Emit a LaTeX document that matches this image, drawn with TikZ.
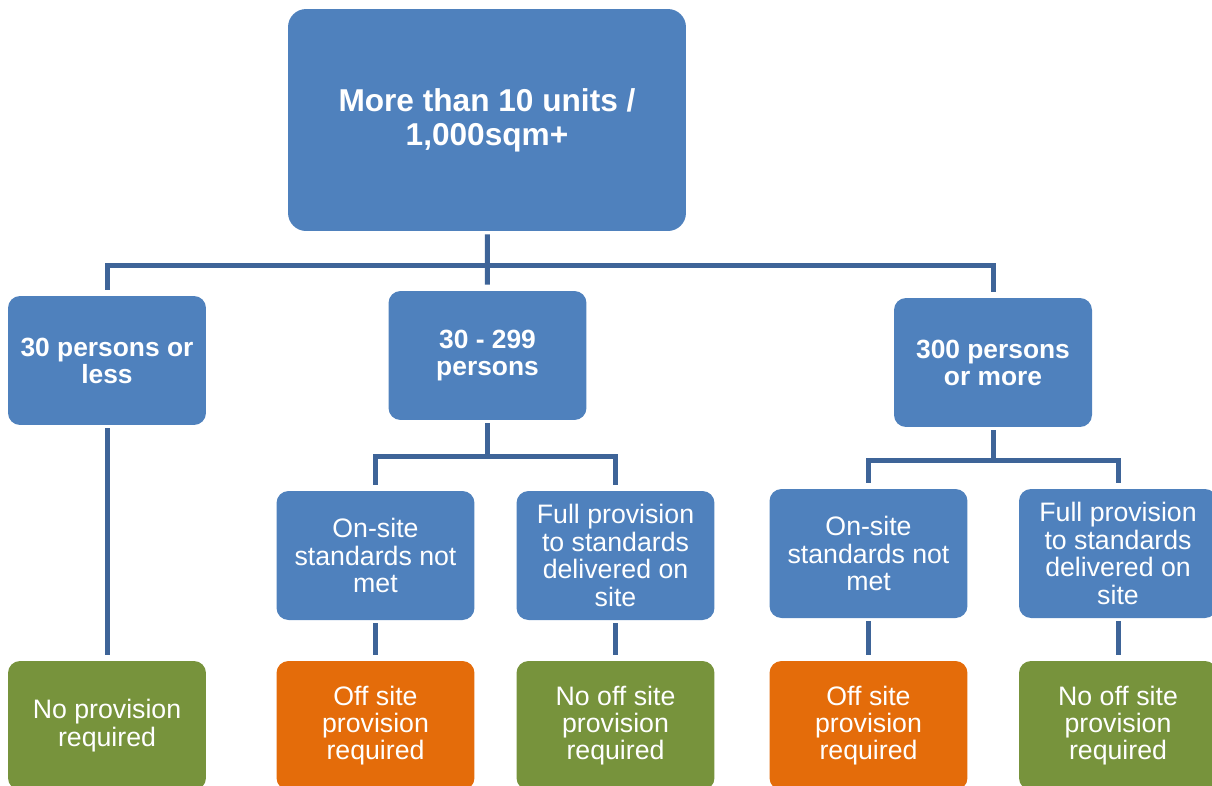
\documentclass[tikz,border=0pt]{standalone}
\usepackage{fontspec}
\setmainfont{Liberation Sans}
\usepackage{tikz}

\definecolor{boxblue}{RGB}{79,129,189}
\definecolor{lineblue}{RGB}{62,100,152}
\definecolor{offorange}{RGB}{228,108,10}
\definecolor{nogreen}{RGB}{119,147,60}

\tikzset{
    box/.style={rounded corners=0.24cm, text=white, align=center,
        minimum width=3.96cm, minimum height=2.58cm, inner sep=0pt},
    toplevel/.style={box, fill=boxblue, rounded corners=0.36cm,
        minimum width=7.96cm, minimum height=4.44cm,
        font=\bfseries\fontsize{18}{19.3}\selectfont},
    persons/.style={box, fill=boxblue, font=\bfseries\fontsize{15}{15.3}\selectfont},
    standard/.style={box, fill=boxblue, font=\fontsize{15.2}{15.6}\selectfont},
    offsite/.style={box, fill=offorange, font=\fontsize{15.2}{15.6}\selectfont},
    nooffsite/.style={box, fill=nogreen, font=\fontsize{15.2}{15.6}\selectfont},
    conn/.style={draw=lineblue, line width=0.1cm, shorten <=0.06cm, shorten >=0.12cm}
}

\begin{document}
\begin{tikzpicture}[x=0.02cm, y=-0.02cm]
        \useasboundingbox (0,0) rectangle (1212,785);
        \clip (0,0) rectangle (1212,785);

        \node[toplevel] (top) at (487,120) {More than 10 units /\\1,000sqm+};

        \node[persons] (small) at (107,360.5) {30 persons or\\less};
        \node[persons] (mid) at (487.5,355.5) {30 - 299\\persons};
        \node[persons] (large) at (993,362.5) {300 persons\\or more};

        \node[standard] (midnot) at (375.5,555.5) {On-site\\standards not\\met};
        \node[standard] (midfull) at (615.5,555.5) {Full provision\\to standards\\delivered on\\site};
        \node[standard] (largenot) at (868.5,553.5) {On-site\\standards not\\met};
        \node[standard] (largefull) at (1118,553.5) {Full provision\\to standards\\delivered on\\site};

        \node[nooffsite] (smallres) at (107,725.5) {No provision\\required};
        \node[offsite] (midnotres) at (375.5,725.5) {Off site\\provision\\required};
        \node[nooffsite] (midfullres) at (615.5,725.5) {No off site\\provision\\required};
        \node[offsite] (largenotres) at (868.5,725.5) {Off site\\provision\\required};
        \node[nooffsite] (largefullres) at (1118,725.5) {No off site\\provision\\required};

        \coordinate (topbus) at (487,265);
        \coordinate (midbus) at (487.5,456);
        \coordinate (largebus) at (993,460);

        \draw[conn] (top) -- (mid);
        \draw[conn, shorten <=0.12cm] (small.north) |- (topbus) -| (large.north);

        \draw[conn, shorten >=0pt] (mid.south) -- (midbus);
        \draw[conn, shorten <=0.12cm] (midnot.north) |- (midbus) -| (midfull.north);
        \draw[conn, shorten >=0pt] (large.south) -- (largebus);
        \draw[conn, shorten <=0.12cm] (largenot.north) |- (largebus) -| (largefull.north);

        \draw[conn] (small.south) -- (smallres.north);
        \draw[conn] (midnot.south) -- (midnotres.north);
        \draw[conn] (midfull.south) -- (midfullres.north);
        \draw[conn] (largenot.south) -- (largenotres.north);
        \draw[conn] (largefull.south) -- (largefullres.north);
\end{tikzpicture}
\end{document}
